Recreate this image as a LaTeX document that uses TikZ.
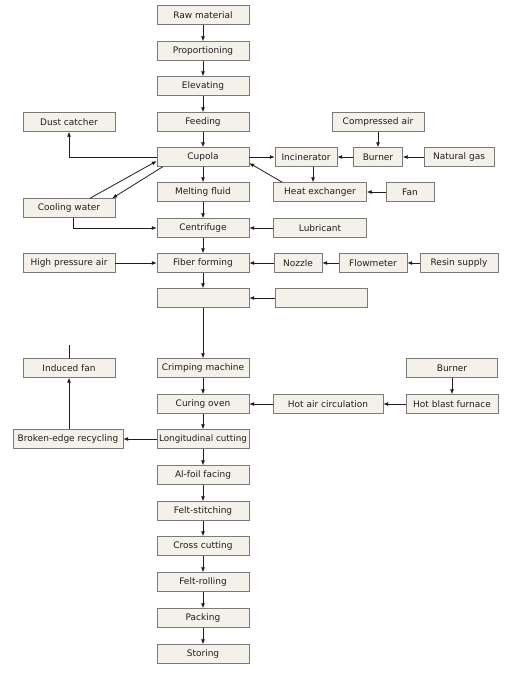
\documentclass[tikz,border=0pt]{standalone}
\usepackage{fontspec}
\setmainfont{DejaVu Sans}
\usepackage{tikz}
\usetikzlibrary{arrows.meta,calc}
\tikzset{>={Latex[length=5pt,width=4pt]}}
\definecolor{boxfill}{HTML}{F4F1EA}
\definecolor{boxline}{HTML}{7A7A7A}
\definecolor{inkline}{HTML}{1E1E1E}
\tikzset{box/.style={draw=boxline,fill=boxfill,minimum width=92pt,minimum height=19pt,inner sep=1pt,font=\fontsize{9}{10}\selectfont,text=inkline}}
\tikzset{flow/.style={draw=inkline,line width=0.8pt}}

\begin{document}
\begin{tikzpicture}[x=1pt,y=-1pt]
  \useasboundingbox (0,0) rectangle (504,674);
  % Main line
  \node[box] (raw) at (203,15) {Raw material};
  \node[box] (prop) at (203,51) {Proportioning};
  \node[box] (elev) at (203,86) {Elevating};
  \node[box] (feed) at (203,122) {Feeding};
  \node[box] (cupola) at (203,157) {Cupola};
  \node[box] (melt) at (203,192) {Melting fluid};
  \node[box] (centri) at (203,228) {Centrifuge};
  \node[box] (fiber) at (203,263) {Fiber forming};
  \node[box] (hidden) at (203,298) {};
  \node[box] (crimp) at (203,368) {Crimping machine};
  \node[box] (curing) at (203,404) {Curing oven};
  \node[box] (longcut) at (203,439) {\fontsize{8.8}{10}\selectfont Longitudinal cutting};
  \node[box] (alfoil) at (203,475) {Al-foil facing};
  \node[box] (stitch) at (203,511) {Felt-stitching};
  \node[box] (crosscut) at (203,546) {Cross cutting};
  \node[box] (rolling) at (203,582) {Felt-rolling};
  \node[box] (packing) at (203,618) {Packing};
  \node[box] (storing) at (203,654) {Storing};

  % Left side
  \node[box] (dust) at (69,122) {Dust catcher};
  \node[box] (cool) at (69,208) {Cooling water};
  \node[box] (hpair) at (69,263) {High pressure air};
  \node[box] (indfan) at (69,368) {Induced fan};
  \node[box,minimum width=110pt] (broken) at (68,439) {Broken-edge recycling};
  \coordinate (fanup) at (69,345);

  % Right side
  \node[box] (compair) at (378,122) {Compressed air};
  \node[box,minimum width=62pt] (incin) at (306,157) {Incinerator};
  \node[box,minimum width=49pt] (burner) at (378,157) {Burner};
  \node[box,minimum width=70pt] (natgas) at (459,157) {Natural gas};
  \node[box,minimum width=93pt] (heatex) at (320,192) {Heat exchanger};
  \node[box,minimum width=48pt] (fan) at (410,192) {Fan};
  \node[box,minimum width=93pt] (lubri) at (320,228) {Lubricant};
  \node[box,minimum width=48pt] (nozzle) at (298,263) {Nozzle};
  \node[box,minimum width=68pt] (flowm) at (373,263) {Flowmeter};
  \node[box,minimum width=78pt] (resin) at (459,263) {Resin supply};
  \node[box] (hiddenr) at (321,298) {};
  \node[box,minimum width=91pt] (burnertwo) at (452,368) {Burner};
  \node[box] (hotblast) at (452,404) {Hot blast furnace};
  \node[box,minimum width=110pt] (hotair) at (328,404) {Hot air circulation};

  % Arrows down the main line
  \foreach \a/\b in {raw/prop,prop/elev,elev/feed,feed/cupola,cupola/melt,melt/centri,centri/fiber,fiber/hidden,hidden/crimp,crimp/curing,curing/longcut,longcut/alfoil,alfoil/stitch,stitch/crosscut,crosscut/rolling,rolling/packing,packing/storing}
    \draw[flow,->] (\a) -- (\b);

  % Side arrows
  \draw[flow,->] (cupola.west) -| (dust.south);
  \draw[flow,->] ([xshift=21pt]cool.north) -- ([yshift=-4pt]cupola.west);
  \draw[flow,->] ([xshift=6pt]cupola.south west) -- ([xshift=-3pt]cool.north east);
  \draw[flow,->] ([xshift=4pt]cool.south) |- (centri.west);
  \draw[flow,->] (hpair) -- (fiber);
  \draw[flow,->] (cupola) -- (incin);
  \draw[flow,->] ([xshift=9pt]heatex.north west) -- ([yshift=-6pt]cupola.east);
  \draw[flow,->] ([xshift=7pt]incin.south) -- ([xshift=7pt]incin.south |- heatex.north);
  \draw[flow,->] (compair) -- (burner);
  \draw[flow,->] (burner) -- (incin);
  \draw[flow,->] (natgas) -- (burner);
  \draw[flow,->] (fan) -- (heatex);
  \draw[flow,->] (lubri) -- (centri);
  \draw[flow,->] (nozzle) -- (fiber);
  \draw[flow,->] (flowm) -- (nozzle);
  \draw[flow,->] (resin) -- (flowm);
  \draw[flow,->] (hiddenr) -- (hidden);
  \draw[flow,->] (burnertwo) -- (hotblast);
  \draw[flow,->] (hotblast) -- (hotair);
  \draw[flow,->] (hotair) -- (curing);
  \draw[flow,->] (longcut) -- (broken);
  \draw[flow,->] (broken.north -| indfan) -- (indfan.south);
  \draw[flow] (indfan.north) -- (fanup);
\end{tikzpicture}
\end{document}
